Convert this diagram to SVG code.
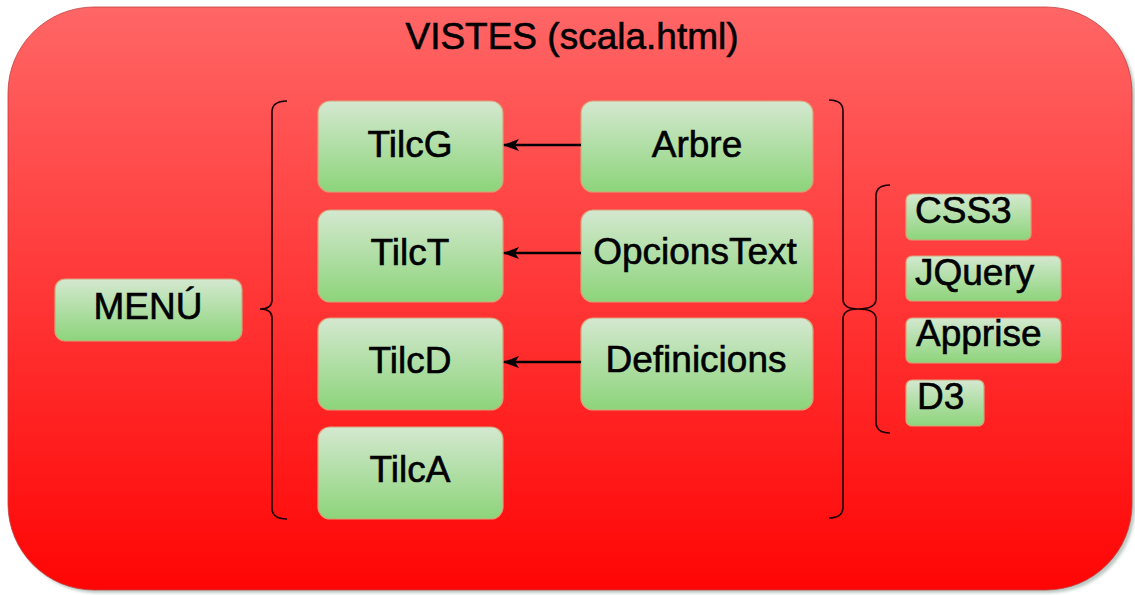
<svg xmlns="http://www.w3.org/2000/svg" width="1135" height="595" viewBox="0 0 1135 595">
  <defs>
    <linearGradient id="redFill" x1="0" y1="0" x2="0" y2="1">
      <stop offset="0" stop-color="#ff6666"/>
      <stop offset="1" stop-color="#ff0505"/>
    </linearGradient>
    <linearGradient id="greenFill" x1="0" y1="0" x2="0" y2="1">
      <stop offset="0" stop-color="#d4e8d0"/>
      <stop offset="1" stop-color="#8cd47a"/>
    </linearGradient>
    <filter id="soft" x="-5%" y="-5%" width="110%" height="110%">
      <feGaussianBlur stdDeviation="1.5"/>
    </filter>
    <marker id="arrowHead" viewBox="0 0 16 12" refX="15" refY="6" markerWidth="16" markerHeight="12" markerUnits="userSpaceOnUse" orient="auto">
      <path d="M0,0 L16,6 L0,12 L4,6 Z" fill="#000"/>
    </marker>
  </defs>
  <style>
    .node rect { fill: url(#greenFill); stroke: #d9a27a; stroke-width: 1.2; }
    .lbl { font-family: "Liberation Sans", Arial, sans-serif; font-size: 37px; fill: #000; stroke: #000; stroke-width: 0.6; }
    .mid { text-anchor: middle; }
    .brace { fill: none; stroke: #1a0000; stroke-width: 1.6; }
    .edge { fill: none; stroke: #000; stroke-width: 2.6; marker-end: url(#arrowHead); }
  </style>

  <!-- container -->
  <g id="vistes">
    <rect x="11" y="10" width="1124" height="583" rx="86" ry="86" fill="#bcc9c2" filter="url(#soft)"/>
    <rect x="8" y="7" width="1124" height="583" rx="86" ry="86" fill="url(#redFill)" stroke="#c04040" stroke-width="0.8"/>
    <text class="lbl mid" x="572" y="49" font-size="35">VISTES (scala.html)</text>
  </g>

  <!-- braces -->
  <g id="braces">
    <path class="brace" d="M287,101 Q272,101 272,112 L272,300 Q272,309 260,309 Q272,309 272,318 L272,508 Q272,519 287,519"/>
    <path class="brace" d="M829,100 Q843,100 843,111 L843,299 Q843,309 858,309 Q843,309 843,319 L843,507 Q843,518 829,518"/>
    <path class="brace" d="M890,185 Q876,185 876,196 L876,299 Q876,309 858,309 Q876,309 876,319 L876,422 Q876,433 890,433"/>
  </g>

  <g id="menu" class="node">
    <rect x="55" y="279" width="187" height="62" rx="10"/>
    <text class="lbl mid" x="148" y="319">MENÚ</text>
  </g>

  <g id="tilcG" class="node">
    <rect x="318" y="101" width="185" height="91" rx="12"/>
    <text class="lbl mid" x="410" y="157">TilcG</text>
  </g>
  <g id="tilcT" class="node">
    <rect x="318" y="210" width="185" height="92" rx="12"/>
    <text class="lbl mid" x="410" y="265">TilcT</text>
  </g>
  <g id="tilcD" class="node">
    <rect x="318" y="318" width="185" height="92" rx="12"/>
    <text class="lbl mid" x="410" y="373">TilcD</text>
  </g>
  <g id="tilcA" class="node">
    <rect x="318" y="427" width="185" height="92" rx="12"/>
    <text class="lbl mid" x="410" y="482">TilcA</text>
  </g>

  <g id="arbre" class="node">
    <rect x="581" y="101" width="232" height="91" rx="12"/>
    <text class="lbl mid" x="697" y="157">Arbre</text>
  </g>
  <g id="opcionsText" class="node">
    <rect x="581" y="210" width="232" height="92" rx="12"/>
    <text class="lbl mid" x="695" y="264">OpcionsText</text>
  </g>
  <g id="definicions" class="node">
    <rect x="581" y="318" width="232" height="92" rx="12"/>
    <text class="lbl mid" x="696" y="372">Definicions</text>
  </g>

  <g id="css3" class="node">
    <rect x="906" y="194" width="125" height="46" rx="6"/>
    <text class="lbl" x="915" y="223">CSS3</text>
  </g>
  <g id="jquery" class="node">
    <rect x="906" y="256" width="155" height="45" rx="6"/>
    <text class="lbl" x="915" y="285">JQuery</text>
  </g>
  <g id="apprise" class="node">
    <rect x="906" y="318" width="155" height="45" rx="6"/>
    <text class="lbl" x="916" y="346">Apprise</text>
  </g>
  <g id="d3" class="node">
    <rect x="906" y="380" width="78" height="46" rx="6"/>
    <text class="lbl" x="917" y="409">D3</text>
  </g>

  <!-- connectors -->
  <g id="connectors">
    <line class="edge" x1="581" y1="145" x2="504" y2="145"/>
    <line class="edge" x1="581" y1="253" x2="504" y2="253"/>
    <line class="edge" x1="581" y1="362" x2="504" y2="362"/>
  </g>
</svg>
